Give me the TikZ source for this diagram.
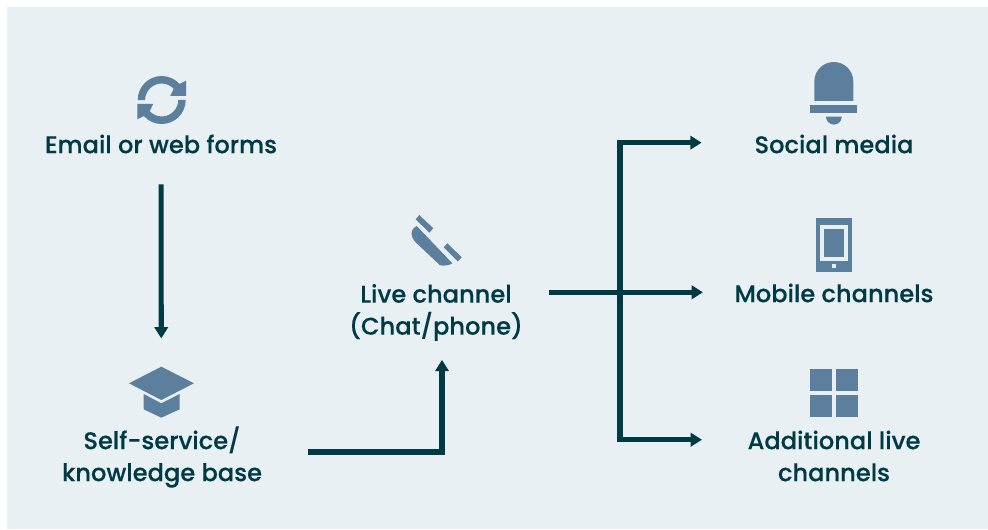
\documentclass[tikz,border=0pt]{standalone}
\usepackage{fontspec}
\setmainfont[FakeBold=0.25]{Poppins Medium}
\usetikzlibrary{arrows.meta}
\definecolor{panelblue}{HTML}{E8F0F4}
\definecolor{iconblue}{HTML}{5B7F9C}
\definecolor{darkteal}{HTML}{003A44}
\tikzset{
  flow/.style={draw=darkteal, line width=3.8pt, -{Triangle[length=8.5pt,width=10pt]}},
  lbl/.style={text=darkteal, align=center, inner sep=0pt, font=\fontsize{18.1}{24}\selectfont},
  iconbox/.style={inner sep=0pt, minimum width=48pt, minimum height=40pt},
  icon/.style={fill=iconblue, draw=none}
}
\begin{document}
\begin{tikzpicture}[x=0.75pt,y=0.75pt]
  \useasboundingbox (0,0) rectangle (988,529);
  % Fond
  \fill[panelblue] (7,0) rectangle (988,522);

  % Textes
  \node[lbl] (email) at (161,385) {Email or web forms};
  \node[lbl] (self) at (162,72) {Self-service/\\knowledge base};
  \node[lbl] (live) at (436,216.5) {Live channel\\(Chat/phone)};
  \node[lbl] (social) at (834,385) {Social media};
  \node[lbl] (mobile) at (834,236) {Mobile channels};
  \node[lbl] (additional) at (834,73) {Additional live\\channels};
  \node[iconbox] (capicon) at (161.3,137) {};

  % Fleches
  \coordinate (hub) at (620,236.7);
  \draw[flow, shorten <=23pt, shorten >=20pt] (email.south) -- (capicon.north);
  \draw[flow, shorten >=14pt] (self.east) ++(45.5,5) -| ([xshift=4.5pt]live.south);
  \draw[flow, shorten >=23.5pt] (live.east) ++(26,20.2) -- (mobile.west |- hub);
  \draw[flow, shorten >=39.5pt] (hub) |- ([yshift=1pt]social.west);
  \draw[flow, shorten >=34pt] (hub) |- ([yshift=12.2pt]additional.west);

  % Recharger
  \begin{scope}[shift={(161.7,429)}]
    \foreach \a in {0,180} {
      \fill[icon, rotate=\a] (-24,0) arc[start angle=180,end angle=42,radius=24] -- (24.3,19.3) -- (24.3,4) -- (8.5,4) -- (12,11.2) arc[start angle=43,end angle=180,radius=16.5] -- cycle;
    }
  \end{scope}

  % Chapeau
  \fill[icon] (161.3,162.3) -- (194,145.7) -- (161.3,129) -- (129,145.7) -- cycle;
  \fill[icon] (143.7,135) -- (161.3,125.7) -- (179.7,135) -- (179.7,119.7) -- (161.3,111.3) -- (143.7,119.7) -- cycle;

  % Telephone
  \fill[icon] (416.7,303) -- (452.3,265.7) .. controls (449,263.5) and (444,263) .. (440,263.7) -- (415,287.3) .. controls (411,292) and (409,299) .. cycle;
  \fill[icon] (419.3,314) -- (433.3,300.7) -- (429.3,296.3) -- (415.7,309.7) -- cycle;
  \fill[icon] (447.3,285.7) -- (461.7,271.7) -- (457.7,267.7) -- (443.7,281.7) -- cycle;

  % Cloche
  \fill[icon] (814.3,428) -- (814.3,447.5) arc[start angle=180,end angle=0,radius=19.5] -- (853.3,428) -- cycle;
  \fill[icon] (810,416.3) rectangle (857,424);
  \fill[icon] (826,412.3) arc[start angle=180,end angle=360,radius=7.9] -- cycle;

  % Tablette
  \fill[icon] (816.3,256.7) rectangle (851.7,311.3);
  \fill[panelblue] (820.3,268.3) rectangle (848,303.7);
  \fill[icon] (824.3,272) rectangle (844,300);
  \fill[panelblue] (832,260.7) rectangle (836,264.7);

  % Carres
  \foreach \x in {810,836} {
    \foreach \y in {112,138} {
      \fill[icon] (\x,\y) rectangle ++(22,22);
    }
  }
\end{tikzpicture}
\end{document}
